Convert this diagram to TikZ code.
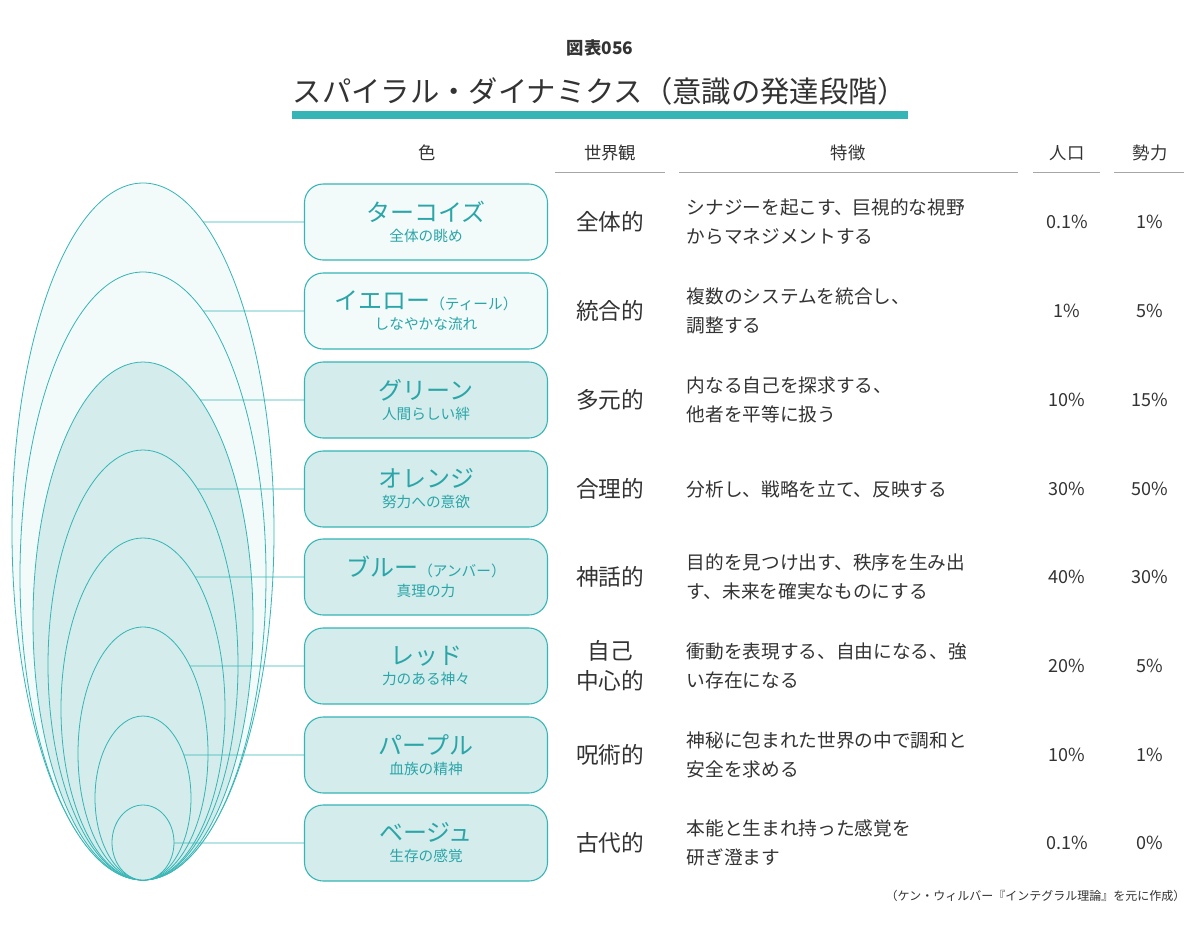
\documentclass[tikz,border=0pt]{standalone}
\usepackage{fontspec}
\setmainfont{Noto Sans CJK JP}
\definecolor{teal1}{HTML}{35B5B5}
\definecolor{tealtx}{HTML}{2AA5A8}
\definecolor{lite}{HTML}{F3FAFA}
\definecolor{mid}{HTML}{D4ECEC}
\definecolor{txt}{HTML}{333333}
\begin{document}
\begin{tikzpicture}[x=0.75pt,y=-0.75pt,
  box/.style={draw=teal1,line width=0.8pt,rounded corners=14pt,minimum width=243*0.75pt,minimum height=76*0.75pt,align=center,text=tealtx,inner sep=0pt},
  ell/.style={draw=teal1,line width=0.6pt},
  conn/.style={draw=teal1,line width=0.6pt},
  wv/.style={text=txt,font=\fontsize{17}{19}\selectfont,align=center},
  ft/.style={text=txt,font=\fontsize{14}{22}\selectfont,align=left,anchor=west},
  pc/.style={text=txt,font=\fontsize{13.5}{16}\selectfont},
  hd/.style={text=txt,font=\fontsize{13}{16}\selectfont},
  hl/.style={draw=gray!70,line width=0.6pt}]
\fill[white] (0,0) rectangle (1200,940);
\useasboundingbox (0,0) rectangle (1200,940);
% title
\node[text=txt,font=\fontsize{13}{15}\selectfont\bfseries] (fig) at (600,48) {図表056};
\node[text=txt,font=\fontsize{22}{26}\selectfont] (title) at (600,91) {スパイラル・ダイナミクス（意識の発達段階）};
\draw[teal1,line width=5.5pt] (292,115) -- (908,115);
% headers
\node[hd] (h1) at (427,153) {色};
\node[hd] (h2) at (610,153) {世界観};
\node[hd] (h3) at (848,153) {特徴};
\node[hd] (h4) at (1067,153) {人口};
\node[hd] (h5) at (1150,153) {勢力};
\draw[hl] (555,172) -- (665,172);
\draw[hl] (679,172) -- (1018,172);
\draw[hl] (1033,172) -- (1100,172);
\draw[hl] (1114,172) -- (1184,172);
% boxes
\def\bx{426}
\def\bt#1{{\fontsize{18}{20}\selectfont #1}}
\def\bs#1{{\fontsize{11}{13}\selectfont #1}}
\node[box,fill=lite] (b1) at (\bx,222) {\bt{ターコイズ}\\[3pt]\bs{全体の眺め}};
\node[box,fill=lite] (b2) at (\bx,311) {\bt{イエロー}\bs{（ティール）}\\[3pt]\bs{しなやかな流れ}};
\node[box,fill=mid] (b3) at (\bx,400) {\bt{グリーン}\\[3pt]\bs{人間らしい絆}};
\node[box,fill=mid] (b4) at (\bx,489) {\bt{オレンジ}\\[3pt]\bs{努力への意欲}};
\node[box,fill=mid] (b5) at (\bx,577) {\bt{ブルー}\bs{（アンバー）}\\[3pt]\bs{真理の力}};
\node[box,fill=mid] (b6) at (\bx,666) {\bt{レッド}\\[3pt]\bs{力のある神々}};
\node[box,fill=mid] (b7) at (\bx,755) {\bt{パープル}\\[3pt]\bs{血族の精神}};
\node[box,fill=mid] (b8) at (\bx,843) {\bt{ベージュ}\\[3pt]\bs{生存の感覚}};
% ellipses and connectors
\foreach \i/\top/\a/\fc in {1/183/131/lite,2/272/123/lite,3/362/110/mid,4/450/95/mid,5/538/82/mid,6/627/65/mid,7/716/48/mid,8/805/31/mid}{
  \pgfmathsetmacro{\b}{(880-\top)/2}
  \pgfmathsetmacro{\cy}{(880+\top)/2}
  \fill[\fc] (143,\cy) ellipse [x radius=\a*0.75pt, y radius=\b*0.75pt];
  \draw[ell] (143,\cy) ellipse [x radius=\a*0.75pt, y radius=\b*0.75pt];
}
\foreach \i/\top/\a in {1/183/131,2/272/123,3/362/110,4/450/95,5/538/82,6/627/65,7/716/48,8/805/31}{
  \pgfmathsetmacro{\b}{(880-\top)/2}
  \pgfmathsetmacro{\cy}{(880+\top)/2}
  \path (b\i.west); \pgfgetlastxy{\bxw}{\byw}
  \pgfmathsetmacro{\yy}{-\byw/0.75}
  \pgfmathsetmacro{\xs}{143+\a*sqrt(max(0,1-((\yy-\cy)/\b)^2))}
  \coordinate (s\i) at (\xs,\yy);
  \draw[conn] (s\i) -- (b\i.west);
}
% world views
\node[wv] (w1) at (610,222) {全体的};
\node[wv] (w2) at (610,311) {統合的};
\node[wv] (w3) at (610,400) {多元的};
\node[wv] (w4) at (610,489) {合理的};
\node[wv] (w5) at (610,577) {神話的};
\node[wv,font=\fontsize{17}{23}\selectfont] (w6) at (610,666) {自己\\中心的};
\node[wv] (w7) at (610,755) {呪術的};
\node[wv] (w8) at (610,843) {古代的};
% features
\node[ft] (f1) at (682,222) {シナジーを起こす、巨視的な視野\\からマネジメントする};
\node[ft] (f2) at (682,311) {複数のシステムを統合し、\\調整する};
\node[ft] (f3) at (682,400) {内なる自己を探求する、\\他者を平等に扱う};
\node[ft] (f4) at (682,489) {分析し、戦略を立て、反映する};
\node[ft] (f5) at (682,577) {目的を見つけ出す、秩序を生み出\\す、未来を確実なものにする};
\node[ft] (f6) at (682,666) {衝動を表現する、自由になる、強\\い存在になる};
\node[ft] (f7) at (682,755) {神秘に包まれた世界の中で調和と\\安全を求める};
\node[ft] (f8) at (682,843) {本能と生まれ持った感覚を\\研ぎ澄ます};
% percentages
\foreach \i/\y/\p/\q in {1/222/0.1\%/1\%,2/311/1\%/5\%,3/400/10\%/15\%,4/489/30\%/50\%,5/577/40\%/30\%,6/666/20\%/5\%,7/755/10\%/1\%,8/843/0.1\%/0\%}{
  \node[pc] (p\i) at (1067,\y) {\p};
  \node[pc] (q\i) at (1150,\y) {\q};
}
\node[text=txt,font=\fontsize{9}{11}\selectfont,anchor=east] (src) at (1190,896) {（ケン・ウィルバー『インテグラル理論』を元に作成）};
\end{tikzpicture}
\end{document}
